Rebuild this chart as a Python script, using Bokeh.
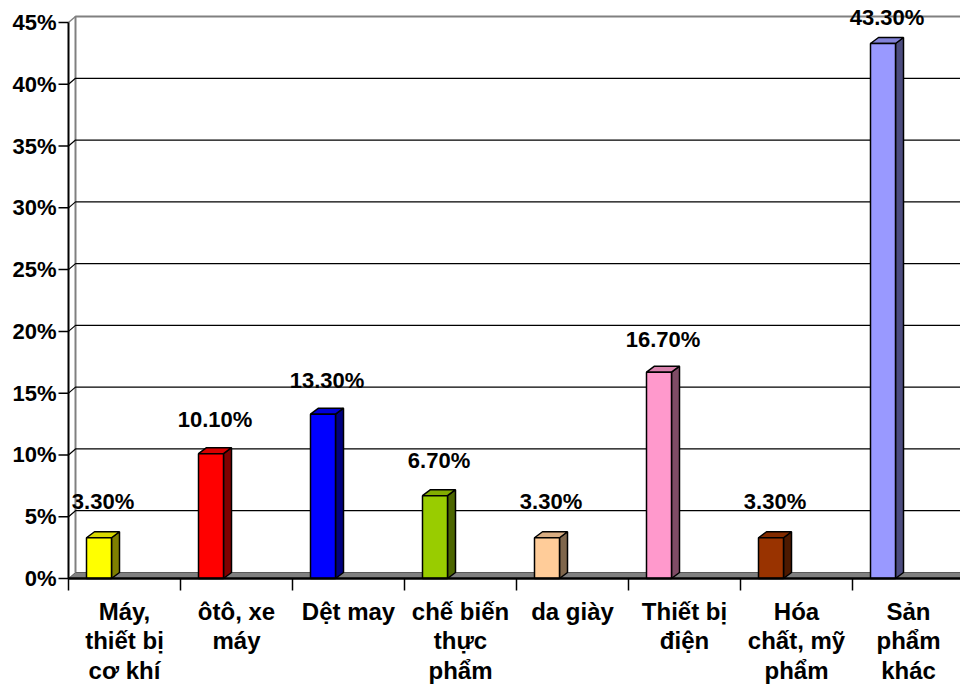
from bokeh.plotting import figure
from bokeh.models import Range1d
from bokeh.core.properties import value
from bokeh.embed import file_html
from bokeh.resources import INLINE

# ---- data ----
categories = ["Máy,\nthiết bị\ncơ khí", "ôtô, xe\nmáy", "Dệt may", "chế biến\nthực\nphẩm",
              "da giày", "Thiết bị\nđiện", "Hóa\nchất, mỹ\nphẩm", "Sản\nphẩm\nkhác"]
values = [3.3, 10.1, 13.3, 6.7, 3.3, 16.7, 3.3, 43.3]
value_labels = ["3.30%", "10.10%", "13.30%", "6.70%", "3.30%", "16.70%", "3.30%", "43.30%"]
front_colors = ["#FFFF00", "#FF0000", "#0000FF", "#99CC00", "#FFCC99", "#FF99CC", "#993300", "#9999FF"]
y_ticks = [0, 5, 10, 15, 20, 25, 30, 35, 40, 45]
y_tick_labels = ["0%", "5%", "10%", "15%", "20%", "25%", "30%", "35%", "40%", "45%"]

# ---- geometry (pixels) ----
W, H = 960, 684
AX_X, AX_Y = 68, 578          # canvas position of the front axes corner
PX_X = 112.0                  # pixels per category
PX_Y = 556.0 / 45.0           # pixels per percent
YMAX = 45

def ux(px):
    return px / PX_X

def uy(px):
    return px / PX_Y

x0 = -AX_X / PX_X
x1 = (W - AX_X) / PX_X
y0 = -(H - AX_Y) / PX_Y
y1 = AX_Y / PX_Y

p = figure(width=W, height=H, x_range=Range1d(x0, x1), y_range=Range1d(y0, y1),
           output_backend="svg", toolbar_location=None, min_border=0,
           background_fill_color="white", border_fill_color="white")
p.axis.visible = False
p.grid.visible = False
p.outline_line_color = None

FONT = value("Liberation Sans")

def shade(c, f):
    c = c.lstrip("#")
    r, g, b = int(c[0:2], 16), int(c[2:4], 16), int(c[4:6], 16)
    return "#%02x%02x%02x" % (int(r * f), int(g * f), int(b * f))

n = len(categories)
dxw, dyw = ux(7), uy(6)       # wall depth
dxb, dyb = ux(8), uy(6)       # bar depth
xr = x1 + 0.1

# back wall border (gray)
p.line([dxw, dxw, xr], [dyw, YMAX + dyw, YMAX + dyw], line_color="#808080", line_width=2)
p.line([0, dxw], [YMAX, YMAX + dyw], line_color="#808080", line_width=1.5)

# gridlines on walls
for t in y_ticks[1:-1]:
    p.line([0, dxw, xr], [t, t + dyw, t + dyw], line_color="black", line_width=1.2)

# floor
p.patch([0, xr, xr + dxw, dxw], [0, 0, dyw, dyw], fill_color="#808080",
        line_color="#5a5a5a", line_width=1)

# bars
fx0 = [i + ux(18) for i in range(n)]
fx1 = [i + ux(43) for i in range(n)]
side_xs = [[b, b + dxb, b + dxb, b] for b in fx1]
side_ys = [[0, dyb, v + dyb, v] for v in values]
top_xs = [[a, b, b + dxb, a + dxb] for a, b in zip(fx0, fx1)]
top_ys = [[v, v, v + dyb, v + dyb] for v in values]
p.patches(side_xs, side_ys, fill_color=[shade(c, 0.5) for c in front_colors],
          line_color="black", line_width=1.5)
p.patches(top_xs, top_ys, fill_color=[shade(c, 0.85) for c in front_colors],
          line_color="black", line_width=1.5)
p.quad(left=fx0, right=fx1, bottom=[0] * n, top=values, fill_color=front_colors,
       line_color="black", line_width=1.5)

# front axes
p.line([0, 0], [0, YMAX], line_color="black", line_width=2)
p.line([0, xr], [0, 0], line_color="black", line_width=2.5)
p.segment(x0=[-ux(10)] * len(y_ticks), y0=y_ticks, x1=[0] * len(y_ticks), y1=y_ticks,
          line_color="black", line_width=1.5)
p.segment(x0=list(range(n + 1)), y0=[0] * (n + 1), x1=list(range(n + 1)),
          y1=[-uy(12)] * (n + 1), line_color="black", line_width=1.5)

# y tick labels
p.text(x=[-ux(12)] * len(y_ticks), y=y_ticks, text=y_tick_labels, text_align="right",
       text_baseline="middle", text_font=FONT, text_font_style="bold",
       text_font_size="22px", text_color="black")

# category labels
p.text(x=[i + 0.5 for i in range(n)], y=[-uy(19)] * n, text=categories,
       text_align="center", text_baseline="top", text_font=FONT, text_font_style="bold",
       text_font_size="24px", text_line_height=1.1, text_color="black")

# value labels
lab_x = [i + ux(34.5) for i in range(n)]
lab_y = [v + uy(37 - 0.25 * v) for v in values]
p.text(x=lab_x, y=lab_y, text=value_labels, text_align="center",
       text_baseline="alphabetic", text_font=FONT, text_font_style="bold",
       text_font_size="22px", text_color="black")

open("out.html", "w").write(file_html(p, INLINE))
